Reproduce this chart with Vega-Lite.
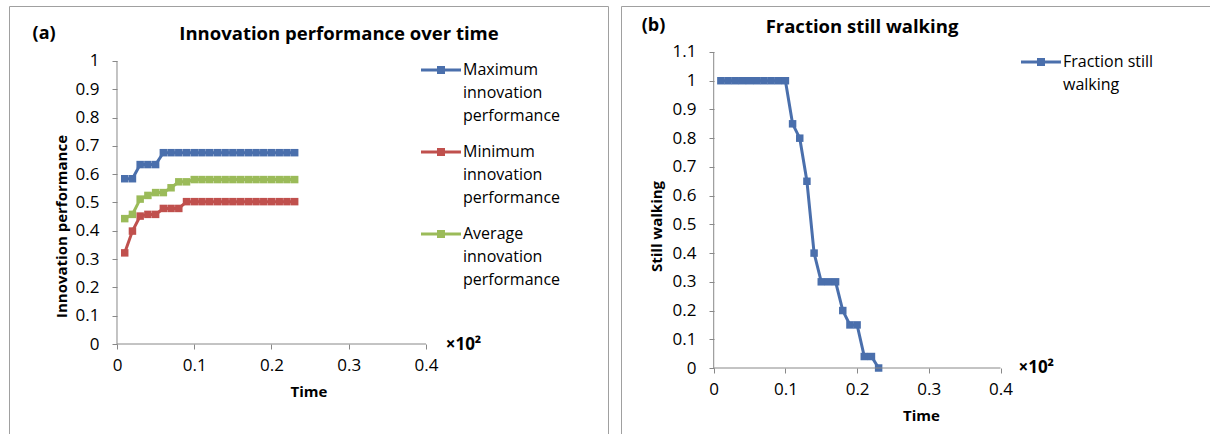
{
  "$schema": "https://vega.github.io/schema/vega-lite/v6.json",
  "padding": {"left": 8, "top": 5, "right": 0, "bottom": 0},
  "background": "white",
  "spacing": 13,
  "bounds": "flush",
  "resolve": {"scale": {"color": "independent", "stroke": "independent"}, "legend": {"color": "independent", "stroke": "independent"}},
  "config": {
    "font": "Open Sans",
    "view": {"stroke": "#a0a0a0", "strokeWidth": 1},
    "axis": {"grid": false, "domain": false, "tickColor": "#888888", "tickSize": 5, "labelFont": "Open Sans", "labelFontSize": 17, "labelColor": "#000000", "labelPadding": 8, "labelOverlap": false, "titleFont": "Open Sans", "titleFontSize": 15, "titleFontWeight": "bold", "titleColor": "#000000"},
    "legend": {"labelFont": "Open Sans", "labelFontSize": 16, "labelColor": "#000000", "labelLimit": 300}
  },
  "datasets": {
    "perf": [
      {"t": 0.01, "series": "Maximum innovation performance", "v": 0.584},
      {"t": 0.02, "series": "Maximum innovation performance", "v": 0.584},
      {"t": 0.03, "series": "Maximum innovation performance", "v": 0.634},
      {"t": 0.04, "series": "Maximum innovation performance", "v": 0.634},
      {"t": 0.05, "series": "Maximum innovation performance", "v": 0.634},
      {"t": 0.06, "series": "Maximum innovation performance", "v": 0.676},
      {"t": 0.07, "series": "Maximum innovation performance", "v": 0.676},
      {"t": 0.08, "series": "Maximum innovation performance", "v": 0.676},
      {"t": 0.09, "series": "Maximum innovation performance", "v": 0.676},
      {"t": 0.10, "series": "Maximum innovation performance", "v": 0.676},
      {"t": 0.11, "series": "Maximum innovation performance", "v": 0.676},
      {"t": 0.12, "series": "Maximum innovation performance", "v": 0.676},
      {"t": 0.13, "series": "Maximum innovation performance", "v": 0.676},
      {"t": 0.14, "series": "Maximum innovation performance", "v": 0.676},
      {"t": 0.15, "series": "Maximum innovation performance", "v": 0.676},
      {"t": 0.16, "series": "Maximum innovation performance", "v": 0.676},
      {"t": 0.17, "series": "Maximum innovation performance", "v": 0.676},
      {"t": 0.18, "series": "Maximum innovation performance", "v": 0.676},
      {"t": 0.19, "series": "Maximum innovation performance", "v": 0.676},
      {"t": 0.20, "series": "Maximum innovation performance", "v": 0.676},
      {"t": 0.21, "series": "Maximum innovation performance", "v": 0.676},
      {"t": 0.22, "series": "Maximum innovation performance", "v": 0.676},
      {"t": 0.23, "series": "Maximum innovation performance", "v": 0.676},
      {"t": 0.01, "series": "Minimum innovation performance", "v": 0.322},
      {"t": 0.02, "series": "Minimum innovation performance", "v": 0.399},
      {"t": 0.03, "series": "Minimum innovation performance", "v": 0.452},
      {"t": 0.04, "series": "Minimum innovation performance", "v": 0.458},
      {"t": 0.05, "series": "Minimum innovation performance", "v": 0.458},
      {"t": 0.06, "series": "Minimum innovation performance", "v": 0.479},
      {"t": 0.07, "series": "Minimum innovation performance", "v": 0.479},
      {"t": 0.08, "series": "Minimum innovation performance", "v": 0.479},
      {"t": 0.09, "series": "Minimum innovation performance", "v": 0.503},
      {"t": 0.10, "series": "Minimum innovation performance", "v": 0.503},
      {"t": 0.11, "series": "Minimum innovation performance", "v": 0.503},
      {"t": 0.12, "series": "Minimum innovation performance", "v": 0.503},
      {"t": 0.13, "series": "Minimum innovation performance", "v": 0.503},
      {"t": 0.14, "series": "Minimum innovation performance", "v": 0.503},
      {"t": 0.15, "series": "Minimum innovation performance", "v": 0.503},
      {"t": 0.16, "series": "Minimum innovation performance", "v": 0.503},
      {"t": 0.17, "series": "Minimum innovation performance", "v": 0.503},
      {"t": 0.18, "series": "Minimum innovation performance", "v": 0.503},
      {"t": 0.19, "series": "Minimum innovation performance", "v": 0.503},
      {"t": 0.20, "series": "Minimum innovation performance", "v": 0.503},
      {"t": 0.21, "series": "Minimum innovation performance", "v": 0.503},
      {"t": 0.22, "series": "Minimum innovation performance", "v": 0.503},
      {"t": 0.23, "series": "Minimum innovation performance", "v": 0.503},
      {"t": 0.01, "series": "Average innovation performance", "v": 0.443},
      {"t": 0.02, "series": "Average innovation performance", "v": 0.458},
      {"t": 0.03, "series": "Average innovation performance", "v": 0.512},
      {"t": 0.04, "series": "Average innovation performance", "v": 0.525},
      {"t": 0.05, "series": "Average innovation performance", "v": 0.535},
      {"t": 0.06, "series": "Average innovation performance", "v": 0.535},
      {"t": 0.07, "series": "Average innovation performance", "v": 0.552},
      {"t": 0.08, "series": "Average innovation performance", "v": 0.573},
      {"t": 0.09, "series": "Average innovation performance", "v": 0.573},
      {"t": 0.10, "series": "Average innovation performance", "v": 0.581},
      {"t": 0.11, "series": "Average innovation performance", "v": 0.581},
      {"t": 0.12, "series": "Average innovation performance", "v": 0.581},
      {"t": 0.13, "series": "Average innovation performance", "v": 0.581},
      {"t": 0.14, "series": "Average innovation performance", "v": 0.581},
      {"t": 0.15, "series": "Average innovation performance", "v": 0.581},
      {"t": 0.16, "series": "Average innovation performance", "v": 0.581},
      {"t": 0.17, "series": "Average innovation performance", "v": 0.581},
      {"t": 0.18, "series": "Average innovation performance", "v": 0.581},
      {"t": 0.19, "series": "Average innovation performance", "v": 0.581},
      {"t": 0.20, "series": "Average innovation performance", "v": 0.581},
      {"t": 0.21, "series": "Average innovation performance", "v": 0.581},
      {"t": 0.22, "series": "Average innovation performance", "v": 0.581},
      {"t": 0.23, "series": "Average innovation performance", "v": 0.581}
    ],
    "walk": [
      {"t": 0.01, "series": "Fraction still walking", "v": 1.0},
      {"t": 0.02, "series": "Fraction still walking", "v": 1.0},
      {"t": 0.03, "series": "Fraction still walking", "v": 1.0},
      {"t": 0.04, "series": "Fraction still walking", "v": 1.0},
      {"t": 0.05, "series": "Fraction still walking", "v": 1.0},
      {"t": 0.06, "series": "Fraction still walking", "v": 1.0},
      {"t": 0.07, "series": "Fraction still walking", "v": 1.0},
      {"t": 0.08, "series": "Fraction still walking", "v": 1.0},
      {"t": 0.09, "series": "Fraction still walking", "v": 1.0},
      {"t": 0.10, "series": "Fraction still walking", "v": 1.0},
      {"t": 0.11, "series": "Fraction still walking", "v": 0.85},
      {"t": 0.12, "series": "Fraction still walking", "v": 0.8},
      {"t": 0.13, "series": "Fraction still walking", "v": 0.65},
      {"t": 0.14, "series": "Fraction still walking", "v": 0.4},
      {"t": 0.15, "series": "Fraction still walking", "v": 0.3},
      {"t": 0.16, "series": "Fraction still walking", "v": 0.3},
      {"t": 0.17, "series": "Fraction still walking", "v": 0.3},
      {"t": 0.18, "series": "Fraction still walking", "v": 0.2},
      {"t": 0.19, "series": "Fraction still walking", "v": 0.15},
      {"t": 0.20, "series": "Fraction still walking", "v": 0.15},
      {"t": 0.21, "series": "Fraction still walking", "v": 0.04},
      {"t": 0.22, "series": "Fraction still walking", "v": 0.04},
      {"t": 0.23, "series": "Fraction still walking", "v": 0.0}
    ]
  },
  "hconcat": [
    {
      "width": 599,
      "height": 440,
      "layer": [
        {
          "data": {"name": "perf"},
          "mark": {"type": "line", "strokeWidth": 3},
          "encoding": {
            "x": {"field": "t", "type": "quantitative", "scale": {"domain": [-0.1398, 0.6356], "nice": false, "zero": false},
                  "axis": {"values": [0, 0.1, 0.2, 0.3, 0.4], "tickCount": 20, "format": "~g", "offset": -102, "title": "Time", "titlePadding": 11, "labelOverlap": false}},
            "y": {"field": "v", "type": "quantitative", "scale": {"domain": [-0.3604, 1.1943], "nice": false, "zero": false},
                  "axis": {"values": [0, 0.1, 0.2, 0.3, 0.4, 0.5, 0.6, 0.7, 0.8, 0.9, 1], "tickCount": 20, "format": "~g", "offset": -108, "title": "Innovation performance", "titlePadding": 6, "labelPadding": 13, "labelOverlap": false}},
            "stroke": {"field": "series", "type": "nominal", "sort": null,
                      "scale": {"domain": ["Maximum innovation performance", "Minimum innovation performance", "Average innovation performance"], "range": ["#4A6FAC", "#C0504D", "#9BBB59"]},
                      "legend": {"title": null, "orient": "none", "legendX": 412, "legendY": 44,
                                 "symbolType": "M-1,-0.075H-0.2V-0.2H0.2V-0.075H1V0.075H0.2V0.2H-0.2V0.075H-1Z",
                                 "symbolSize": 1600, "symbolStrokeWidth": 0, "labelOffset": 2, "rowPadding": 8,
                                 "labelExpr": "split(datum.label, ' ')",
                                 "encode": {"labels": {"update": {"lineHeight": {"value": 23}}}}}}
          }
        },
        {
          "data": {"name": "perf"},
          "mark": {"type": "point", "shape": "square", "filled": true, "size": 56, "opacity": 1},
          "encoding": {
            "x": {"field": "t", "type": "quantitative"},
            "y": {"field": "v", "type": "quantitative"},
            "color": {"field": "series", "type": "nominal", "sort": null,
                      "scale": {"domain": ["Maximum innovation performance", "Minimum innovation performance", "Average innovation performance"], "range": ["#4A6FAC", "#C0504D", "#9BBB59"]},
                      "legend": {"title": null, "orient": "none", "legendX": 412, "legendY": 44,
                                 "symbolType": "M-1,-0.075H-0.2V-0.2H0.2V-0.075H1V0.075H0.2V0.2H-0.2V0.075H-1Z",
                                 "symbolSize": 1600, "symbolStrokeWidth": 0, "labelOffset": 2, "rowPadding": 8,
                                 "labelExpr": "split(datum.label, ' ')",
                                 "encode": {"labels": {"update": {"lineHeight": {"value": 23}}}}}}
          }
        },
        {
          "data": {"values": [{}]},
          "mark": {"type": "rule", "color": "#888888", "strokeWidth": 1},
          "encoding": {"x": {"datum": 0, "type": "quantitative"}, "x2": {"datum": 0.4}, "y": {"datum": 0, "type": "quantitative"}}
        },
        {
          "data": {"values": [{}]},
          "mark": {"type": "rule", "color": "#888888", "strokeWidth": 1},
          "encoding": {"x": {"datum": 0, "type": "quantitative"}, "y": {"datum": 0, "type": "quantitative"}, "y2": {"datum": 1}}
        },
        {
          "data": {"values": [{}]},
          "mark": {"type": "text", "text": "Innovation performance over time", "font": "Open Sans", "fontSize": 18.5, "fontWeight": "bold", "align": "center", "baseline": "middle", "color": "#000000"},
          "encoding": {"x": {"datum": 0.2874, "type": "quantitative"}, "y": {"datum": 1.0954, "type": "quantitative"}}
        },
        {
          "data": {"values": [{}]},
          "mark": {"type": "text", "text": "(a)", "font": "Open Sans", "fontSize": 18, "fontWeight": "bold", "align": "left", "baseline": "middle", "color": "#000000"},
          "encoding": {"x": {"datum": -0.1093, "type": "quantitative"}, "y": {"datum": 1.094, "type": "quantitative"}}
        },
        {
          "data": {"values": [{}]},
          "mark": {"type": "text", "text": "×10²", "font": "Open Sans", "fontSize": 17, "fontWeight": "bold", "align": "left", "baseline": "middle", "color": "#000000"},
          "encoding": {"x": {"datum": 0.4255, "type": "quantitative"}, "y": {"datum": -0.005, "type": "quantitative"}}
        }
      ]
    },
    {
      "width": 600,
      "height": 440,
      "layer": [
        {
          "data": {"name": "walk"},
          "mark": {"type": "line", "strokeWidth": 3},
          "encoding": {
            "x": {"field": "t", "type": "quantitative", "scale": {"domain": [-0.1293, 0.7075], "nice": false, "zero": false},
                  "axis": {"values": [0, 0.1, 0.2, 0.3, 0.4], "tickCount": 20, "format": "~g", "offset": -78, "title": "Time", "titlePadding": 11, "labelOverlap": false}},
            "y": {"field": "v", "type": "quantitative", "scale": {"domain": [-0.2715, 1.2601], "nice": false, "zero": false},
                  "axis": {"values": [0, 0.1, 0.2, 0.3, 0.4, 0.5, 0.6, 0.7, 0.8, 0.9, 1, 1.1], "tickCount": 20, "format": "~g", "offset": -93, "title": "Still walking", "titlePadding": 8, "labelPadding": 13, "labelOverlap": false}},
            "stroke": {"field": "series", "type": "nominal",
                      "scale": {"domain": ["Fraction still walking"], "range": ["#4A6FAC"]},
                      "legend": {"title": null, "orient": "none", "legendX": 400, "legendY": 36,
                                 "symbolType": "M-1,-0.075H-0.2V-0.2H0.2V-0.075H1V0.075H0.2V0.2H-0.2V0.075H-1Z",
                                 "symbolSize": 1600, "symbolStrokeWidth": 0, "labelOffset": 2,
                                 "labelExpr": "datum.label == 'Fraction still walking' ? ['Fraction still', 'walking'] : datum.label",
                                 "encode": {"labels": {"update": {"lineHeight": {"value": 23}}}}}}
          }
        },
        {
          "data": {"name": "walk"},
          "mark": {"type": "point", "shape": "square", "filled": true, "size": 56, "opacity": 1},
          "encoding": {
            "x": {"field": "t", "type": "quantitative"},
            "y": {"field": "v", "type": "quantitative"},
            "color": {"field": "series", "type": "nominal",
                      "scale": {"domain": ["Fraction still walking"], "range": ["#4A6FAC"]},
                      "legend": {"title": null, "orient": "none", "legendX": 400, "legendY": 36,
                                 "symbolType": "M-1,-0.075H-0.2V-0.2H0.2V-0.075H1V0.075H0.2V0.2H-0.2V0.075H-1Z",
                                 "symbolSize": 1600, "symbolStrokeWidth": 0, "labelOffset": 2,
                                 "labelExpr": "datum.label == 'Fraction still walking' ? ['Fraction still', 'walking'] : datum.label",
                                 "encode": {"labels": {"update": {"lineHeight": {"value": 23}}}}}}
          }
        },
        {
          "data": {"values": [{}]},
          "mark": {"type": "rule", "color": "#888888", "strokeWidth": 1},
          "encoding": {"x": {"datum": 0, "type": "quantitative"}, "x2": {"datum": 0.4}, "y": {"datum": 0, "type": "quantitative"}}
        },
        {
          "data": {"values": [{}]},
          "mark": {"type": "rule", "color": "#888888", "strokeWidth": 1},
          "encoding": {"x": {"datum": 0, "type": "quantitative"}, "y": {"datum": 0, "type": "quantitative"}, "y2": {"datum": 1.1}}
        },
        {
          "data": {"values": [{}]},
          "mark": {"type": "text", "text": "Fraction still walking", "font": "Open Sans", "fontSize": 18.5, "fontWeight": "bold", "align": "center", "baseline": "middle", "color": "#000000"},
          "encoding": {"x": {"datum": 0.2068, "type": "quantitative"}, "y": {"datum": 1.187, "type": "quantitative"}}
        },
        {
          "data": {"values": [{}]},
          "mark": {"type": "text", "text": "(b)", "font": "Open Sans", "fontSize": 18, "fontWeight": "bold", "align": "left", "baseline": "middle", "color": "#000000"},
          "encoding": {"x": {"datum": -0.1005, "type": "quantitative"}, "y": {"datum": 1.19, "type": "quantitative"}}
        },
        {
          "data": {"values": [{}]},
          "mark": {"type": "text", "text": "×10²", "font": "Open Sans", "fontSize": 17, "fontWeight": "bold", "align": "left", "baseline": "middle", "color": "#000000"},
          "encoding": {"x": {"datum": 0.425, "type": "quantitative"}, "y": {"datum": 0.0, "type": "quantitative"}}
        }
      ]
    }
  ]
}
